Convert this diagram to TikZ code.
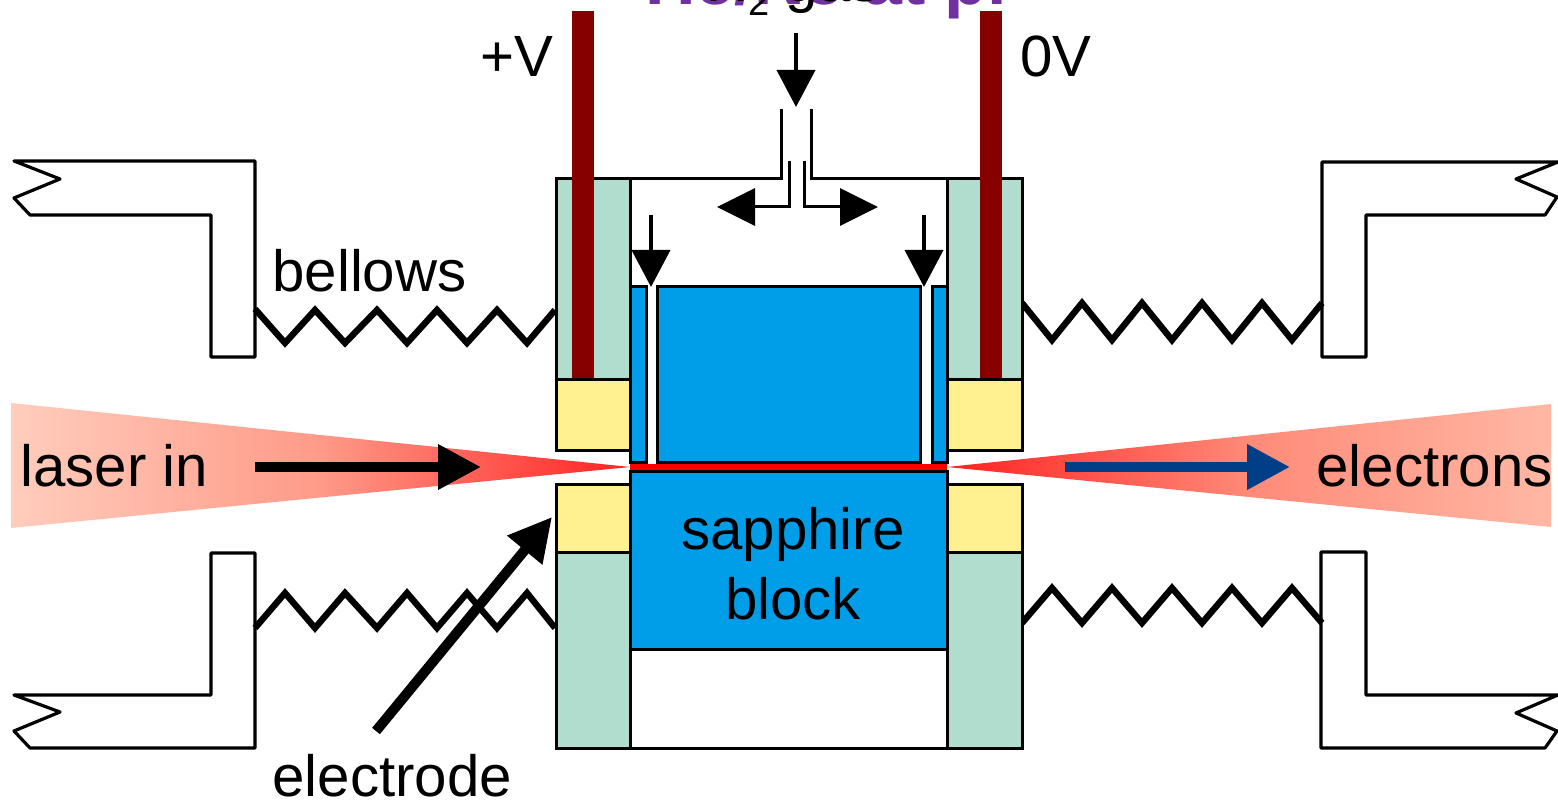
\documentclass[tikz,border=0pt]{standalone}
\usepackage{fontspec}
\setmainfont{Liberation Sans}
\usetikzlibrary{arrows.meta}
\definecolor{sapph}{HTML}{009EE8}
\definecolor{mint}{HTML}{B0DDCE}
\definecolor{butter}{HTML}{FFF18F}
\definecolor{rodred}{HTML}{870000}
\definecolor{beampale}{HTML}{FFCDBD}
\definecolor{beammidin}{HTML}{FF9A88}
\definecolor{beammidout}{HTML}{FF8A78}
\definecolor{beamendout}{HTML}{FFB8A5}
\definecolor{beamhot}{HTML}{FF2222}
\definecolor{elecblue}{HTML}{003F87}
\definecolor{purp}{HTML}{7030A0}
\tikzset{
  lab/.style={inner sep=0pt,anchor=base west,font=\fontsize{29.1}{32}\selectfont},
  labc/.style={lab,anchor=base},
  outline/.style={draw=black,line width=1.5pt,line join=miter},
  flange/.style={draw=black,line width=1.6pt,line join=round,fill=white},
  bellow/.style={draw=black,line width=3.2pt,line join=miter},
  greenb/.style={outline,fill=mint},
  yellowb/.style={outline,fill=butter},
  blueb/.style={outline,fill=sapph},
  rod/.style={fill=rodred,draw=none},
  beamin/.style={left color=beampale,right color=beamhot,middle color=beammidin,draw=none},
  beamout/.style={left color=beamhot,right color=beamendout,middle color=beammidout,draw=none},
  bigarrow/.style={line width=5pt,-{Triangle[length=21.5pt,width=21.5pt]}},
  gasarrow/.style={line width=2pt,-{Triangle[length=18.5pt,width=19pt]}},
  sidearrow/.style={line width=1.5pt,line join=miter,-{Triangle[length=19pt,width=18.5pt]}},
}
\begin{document}
\begin{tikzpicture}[x=0.5pt,y=-0.5pt]
\useasboundingbox (0,0) rectangle (1558,801);
\begin{scope}
\clip (0,0) rectangle (1558,801);
% clipped headings
\node[lab,text=purp,font=\fontsize{35}{38}\selectfont\bfseries] (heading) at (645,5) {He/Ne at pr};
\node[lab] (gasname) at (706,2) {H\raisebox{-7pt}{\fontsize{19}{20}\selectfont 2} gas};
% flanges
\draw[flange] (14,161)--(255,161)--(255,357)--(211,357)--(211,215)--(30,215)--(14,198)--(60,179)--cycle;
\draw[flange] (30,748)--(255,748)--(255,553)--(211,553)--(211,695)--(14,695)--(60,712)--(14,731)--cycle;
\draw[flange] (1558,162)--(1322,162)--(1322,357)--(1366,357)--(1366,215)--(1545,215)--(1557,197)--(1516,179)--cycle;
\draw[flange] (1558,695)--(1366,695)--(1366,552)--(1321,552)--(1321,748)--(1545,748)--(1557,731)--(1516,713)--cycle;
% bellows
\draw[bellow] (255,309)--(285,343)--(315,310)--(345,343)--(377,310)--(407,343)--(437,310)--(467,343)--(497,310)--(527,343)--(555,310);
\draw[bellow] (255,628)--(285,593)--(315,628)--(345,593)--(377,628)--(407,593)--(437,628)--(467,593)--(497,628)--(527,593)--(555,628);
\draw[bellow] (1022,303)--(1052,340)--(1082,303)--(1112,340)--(1142,303)--(1172,340)--(1202,303)--(1232,340)--(1262,303)--(1292,340)--(1322,303);
\draw[bellow] (1022,623)--(1052,588)--(1082,623)--(1112,588)--(1142,623)--(1172,588)--(1202,623)--(1232,588)--(1262,623)--(1292,588)--(1322,623);
% laser beam
\shade[beamin] (11,403)--(630,467)--(11,528)--cycle;
\shade[beamout] (947,467)--(1551,404)--(1551,527)--cycle;
% housing
\draw[outline] (630,179)--(781,179)--(781,109);
\draw[outline] (947,179)--(811,179)--(811,109);
\draw[outline] (630,748)--(947,748);
\draw[greenb] (556,179) rectangle (630,380);
\draw[greenb] (947,179) rectangle (1022,380);
\draw[greenb] (556,553) rectangle (630,748);
\draw[greenb] (947,553) rectangle (1022,748);
\fill[rod] (572,11) rectangle (594,380);
\fill[rod] (980,11) rectangle (1002,380);
\draw[yellowb] (556,380) rectangle (630,451);
\draw[yellowb] (947,380) rectangle (1022,451);
\draw[yellowb] (556,485) rectangle (630,553);
\draw[yellowb] (947,485) rectangle (1022,553);
% sapphire
\draw[blueb] (630,287) rectangle (646,463);
\draw[blueb] (657,287) rectangle (920,463);
\draw[blueb] (932,287) rectangle (947,463);
\draw[blueb] (630,472) rectangle (947,649);
\fill[red] (630,464) rectangle (947,470.5);
% anchor points of the arrows
\coordinate (gasTop) at (796,33);
\coordinate (gasTip) at (796,107);
\coordinate (tubeL) at (789,161);
\coordinate (tubeLc) at (789,207);
\coordinate (tubeLtip) at (717,207);
\coordinate (tubeR) at (804,161);
\coordinate (tubeRc) at (804,207);
\coordinate (tubeRtip) at (878,207);
\coordinate (slotLtop) at (651,215);
\coordinate (slotLtip) at (651,287);
\coordinate (slotRtop) at (924,215);
\coordinate (slotRtip) at (924,287);
\coordinate (laserA) at (255,467);
\coordinate (laserB) at (481,467);
\coordinate (elecA) at (1065,467);
\coordinate (elecB) at (1290,467);
\coordinate (eleA) at (376,731);
\coordinate (eleB) at (552,517);
\draw[gasarrow] (gasTop)--(gasTip);
\draw[sidearrow] (tubeL)--(tubeLc)--(tubeLtip);
\draw[sidearrow] (tubeR)--(tubeRc)--(tubeRtip);
\draw[gasarrow] (slotLtop)--(slotLtip);
\draw[gasarrow] (slotRtop)--(slotRtip);
\draw[bigarrow,draw=black,fill=black] (laserA)--(laserB);
\draw[bigarrow,draw=elecblue,fill=elecblue] (elecA)--(elecB);
\draw[bigarrow,draw=black,fill=black] (eleA)--(eleB);
% labels
\node[lab] (plusv) at (480,77) {+V};
\node[lab] (zerov) at (1020,77) {0V};
\node[lab] (bellows) at (272,292) {bellows};
\node[lab] (laserin) at (20,487) {laser in};
\node[lab] (electrons) at (1316,487) {electrons};
\node[labc] (sapphire) at (793,550) {sapphire};
\node[labc] (block) at (793,619) {block};
\node[lab] (electrode) at (272,796) {electrode};
\end{scope}
\end{tikzpicture}
\end{document}
